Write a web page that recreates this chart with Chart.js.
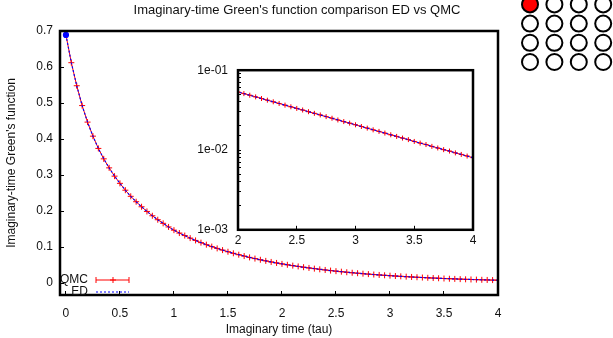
<!DOCTYPE html>
<html>
<head>
<meta charset="utf-8">
<title>Imaginary-time Green's function comparison ED vs QMC</title>
<script src="https://cdn.jsdelivr.net/npm/chart.js@4.4.0/dist/chart.umd.min.js"></script>
<style>
    html, body { margin: 0; padding: 0; background: #fff; }
    #wrap { position: relative; width: 613px; height: 338px; overflow: hidden; }
    #mainChart { position: absolute; left: 0; top: 0; width: 613px; height: 338px; }
    #insetChart { position: absolute; left: 190px; top: 50px; width: 300px; height: 200px; }
</style>
</head>
<body>
<div id="wrap">
    <canvas id="mainChart" width="613" height="338"></canvas>
    <canvas id="insetChart" width="300" height="200"></canvas>
</div>
<script>
// imaginary time grid
var tau = [0, 0.05, 0.1, 0.15, 0.2, 0.25, 0.3, 0.35, 0.4, 0.45,
           0.5, 0.55, 0.6, 0.65, 0.7, 0.75, 0.8, 0.85, 0.9, 0.95,
           1, 1.05, 1.1, 1.15, 1.2, 1.25, 1.3, 1.35, 1.4, 1.45,
           1.5, 1.55, 1.6, 1.65, 1.7, 1.75, 1.8, 1.85, 1.9, 1.95,
           2, 2.05, 2.1, 2.15, 2.2, 2.25, 2.3, 2.35, 2.4, 2.45,
           2.5, 2.55, 2.6, 2.65, 2.7, 2.75, 2.8, 2.85, 2.9, 2.95,
           3, 3.05, 3.1, 3.15, 3.2, 3.25, 3.3, 3.35, 3.4, 3.45,
           3.5, 3.55, 3.6, 3.65, 3.7, 3.75, 3.8, 3.85, 3.9, 3.95,
           4];

// G(tau) from QMC
var greenQmc = [0.689, 0.612, 0.548, 0.493, 0.447, 0.408, 0.374, 0.345, 0.320, 0.297,
                0.277, 0.258, 0.241, 0.226, 0.212, 0.199, 0.187, 0.176, 0.166, 0.156,
                0.147, 0.139, 0.132, 0.125, 0.1185, 0.1124, 0.1067, 0.1014, 0.0964, 0.0916,
                0.0871, 0.0828, 0.0789, 0.0751, 0.0714, 0.0681, 0.0648, 0.0617, 0.0588, 0.0560,
                0.0534, 0.0509, 0.0486, 0.0463, 0.0442, 0.0421, 0.0402, 0.0383, 0.0365, 0.0348,
                0.0332, 0.0317, 0.0302, 0.0288, 0.0275, 0.0262, 0.0250, 0.0238, 0.0227, 0.0217,
                0.0207, 0.0197, 0.0188, 0.0179, 0.0171, 0.0163, 0.0155, 0.0148, 0.0141, 0.0135,
                0.0128, 0.0122, 0.0117, 0.0111, 0.0106, 0.0101, 0.0097, 0.0092, 0.0088, 0.0084,
                0.0080];

// G(tau) from exact diagonalization
var greenEd = [0.689, 0.612, 0.548, 0.493, 0.447, 0.408, 0.374, 0.345, 0.320, 0.297,
               0.277, 0.258, 0.241, 0.226, 0.212, 0.199, 0.187, 0.176, 0.166, 0.156,
               0.147, 0.139, 0.132, 0.125, 0.1185, 0.1124, 0.1067, 0.1014, 0.0964, 0.0916,
               0.0871, 0.0828, 0.0789, 0.0751, 0.0714, 0.0681, 0.0648, 0.0617, 0.0588, 0.0560,
               0.0534, 0.0509, 0.0486, 0.0463, 0.0442, 0.0421, 0.0402, 0.0383, 0.0365, 0.0348,
               0.0332, 0.0317, 0.0302, 0.0288, 0.0275, 0.0262, 0.0250, 0.0238, 0.0227, 0.0217,
               0.0207, 0.0197, 0.0188, 0.0179, 0.0171, 0.0163, 0.0155, 0.0148, 0.0141, 0.0135,
               0.0128, 0.0122, 0.0117, 0.0111, 0.0106, 0.0101, 0.0097, 0.0092, 0.0088, 0.0084,
               0.0080];

var mainXTicks = [0, 0.5, 1, 1.5, 2, 2.5, 3, 3.5, 4];
var mainYTicks = [0, 0.1, 0.2, 0.3, 0.4, 0.5, 0.6, 0.7];
var insetXTicks = [2, 2.5, 3, 3.5, 4];
var insetYTicks = [0.001, 0.01, 0.1];

var titleText = "Imaginary-time Green's function comparison ED vs QMC";

Chart.defaults.font.family = "'Liberation Sans', Arial, sans-serif";
Chart.defaults.font.size = 12;
Chart.defaults.color = '#111';

function toPoints(ys) {
    return tau.map(function (t, i) { return { x: t, y: ys[i] }; });
}

function fixTicks(list) {
    return function (scale) {
        scale.ticks = list.map(function (v) { return { value: v }; });
    };
}

function expLabel(v) {
    var e = Math.round(Math.log10(v));
    var a = Math.abs(e);
    return '1e' + (e < 0 ? '-' : '+') + (a < 10 ? '0' : '') + a;
}

function datasets(radius) {
    return [{
        label: 'QMC',
        data: toPoints(greenQmc),
        borderColor: '#ff0000',
        borderWidth: 1,
        pointStyle: 'cross',
        pointRadius: radius,
        pointBorderWidth: 1,
        pointBorderColor: '#ff0000',
        order: 2
    }, {
        label: 'ED',
        data: toPoints(greenEd),
        borderColor: '#0000ff',
        borderWidth: 1.2,
        borderDash: [2, 2],
        pointRadius: function (c) { return c.dataIndex === 0 ? 2.5 : 0; },
        pointBackgroundColor: '#0000ff',
        pointBorderColor: '#0000ff',
        order: 1
    }];
}

// thick box round the plot area, optional white fill under it
var frame = {
    id: 'frame',
    beforeDraw: function (chart, args, opts) {
        if (!opts.fill) return;
        var a = chart.chartArea, ctx = chart.ctx;
        ctx.save();
        ctx.fillStyle = '#fff';
        ctx.fillRect(a.left, a.top, a.right - a.left, a.bottom - a.top);
        ctx.restore();
    },
    afterDraw: function (chart) {
        var a = chart.chartArea, ctx = chart.ctx;
        ctx.save();
        ctx.strokeStyle = '#000';
        ctx.lineWidth = 2.5;
        ctx.strokeRect(a.left, a.top, a.right - a.left, a.bottom - a.top);
        ctx.restore();
    }
};

// title, key and the lattice sketch in the corner
var decor = {
    id: 'decor',
    afterDraw: function (chart) {
        var ctx = chart.ctx, a = chart.chartArea;
        ctx.save();
        ctx.fillStyle = '#111';
        ctx.font = "13px 'Liberation Sans', Arial, sans-serif";
        ctx.textAlign = 'center';
        ctx.textBaseline = 'middle';
        ctx.fillText(titleText, 297, 10);

        // key
        ctx.font = "12px 'Liberation Sans', Arial, sans-serif";
        var sets = chart.data.datasets;
        var kx = a.left + 28, ky = a.bottom - 15;
        ctx.textAlign = 'right';
        sets.forEach(function (ds, i) {
            var y = ky + 12 * i;
            ctx.fillStyle = '#111';
            ctx.fillText(ds.label, kx, y);
            ctx.strokeStyle = ds.borderColor;
            ctx.lineWidth = ds.borderWidth;
            ctx.setLineDash(ds.borderDash || []);
            ctx.beginPath();
            ctx.moveTo(kx + 8, y);
            ctx.lineTo(kx + 41, y);
            ctx.stroke();
            ctx.setLineDash([]);
            if (i === 0) {
                ctx.beginPath();
                ctx.moveTo(kx + 8, y - 3); ctx.lineTo(kx + 8, y + 3);
                ctx.moveTo(kx + 41, y - 3); ctx.lineTo(kx + 41, y + 3);
                ctx.moveTo(kx + 25, y - 3); ctx.lineTo(kx + 25, y + 3);
                ctx.moveTo(kx + 22, y); ctx.lineTo(kx + 28, y);
                ctx.stroke();
            }
        });

        // 4x4 site lattice, first site occupied
        ctx.lineWidth = 2;
        ctx.strokeStyle = '#000';
        for (var r = 0; r < 4; r++) {
            for (var c = 0; c < 4; c++) {
                ctx.beginPath();
                ctx.arc(530 + c * 24.4, 4.4 + r * 19.2, 8, 0, Math.PI * 2);
                if (r === 0 && c === 0) {
                    ctx.fillStyle = '#ff0000';
                    ctx.fill();
                }
                ctx.stroke();
            }
        }
        ctx.restore();
    }
};

var tickGrid = {
    display: true,
    drawOnChartArea: false,
    drawTicks: true,
    tickLength: -4,
    color: '#000',
    lineWidth: 1
};

new Chart(document.getElementById('mainChart'), {
    type: 'line',
    data: { datasets: datasets(3) },
    options: {
        responsive: false,
        animation: false,
        events: [],
        layout: { padding: { top: 31, right: 115, bottom: 0, left: 0 } },
        plugins: { legend: { display: false }, tooltip: { enabled: false }, frame: { fill: false } },
        scales: {
            x: {
                type: 'linear',
                min: -0.055,
                max: 4,
                afterBuildTicks: fixTicks(mainXTicks),
                afterFit: function (s) { s.height = 43; },
                grid: tickGrid,
                border: { display: false },
                ticks: { padding: 15, maxRotation: 0, autoSkip: false, callback: function (v) { return String(v); } },
                title: { display: true, text: 'Imaginary time (tau)', padding: { top: 0, bottom: 1.5 } }
            },
            y: {
                type: 'linear',
                min: -0.033,
                max: 0.7,
                afterBuildTicks: fixTicks(mainYTicks),
                afterFit: function (s) { s.width = 60; },
                grid: tickGrid,
                border: { display: false },
                ticks: { padding: 11, autoSkip: false, callback: function (v) { return String(v); } },
                title: { display: true, text: "Imaginary-time Green's function", padding: { top: 4.5, bottom: 0 } }
            }
        }
    },
    plugins: [frame, decor]
});

// log-scale inset over the tail
new Chart(document.getElementById('insetChart'), {
    type: 'line',
    data: { datasets: datasets(2.5) },
    options: {
        responsive: false,
        animation: false,
        events: [],
        layout: { padding: { top: 11, right: 17, bottom: 0, left: 0 } },
        plugins: { legend: { display: false }, tooltip: { enabled: false }, frame: { fill: true } },
        scales: {
            x: {
                type: 'linear',
                min: 2,
                max: 4,
                afterBuildTicks: fixTicks(insetXTicks),
                afterFit: function (s) { s.height = 20; },
                grid: tickGrid,
                border: { display: false },
                ticks: { padding: 8, maxRotation: 0, autoSkip: false, callback: function (v) { return String(v); } }
            },
            y: {
                type: 'logarithmic',
                min: 0.001,
                max: 0.1,
                afterFit: function (s) { s.width = 48; },
                grid: { display: true, drawOnChartArea: false, drawTicks: true, tickLength: -3, color: '#000', lineWidth: 1 },
                border: { display: false },
                ticks: {
                    padding: 13,
                    autoSkip: false,
                    callback: function (v) {
                        for (var i = 0; i < insetYTicks.length; i++) {
                            if (Math.abs(v - insetYTicks[i]) < insetYTicks[i] * 1e-6) return expLabel(v);
                        }
                        return '';
                    }
                }
            }
        }
    },
    plugins: [frame]
});
</script>
</body>
</html>
